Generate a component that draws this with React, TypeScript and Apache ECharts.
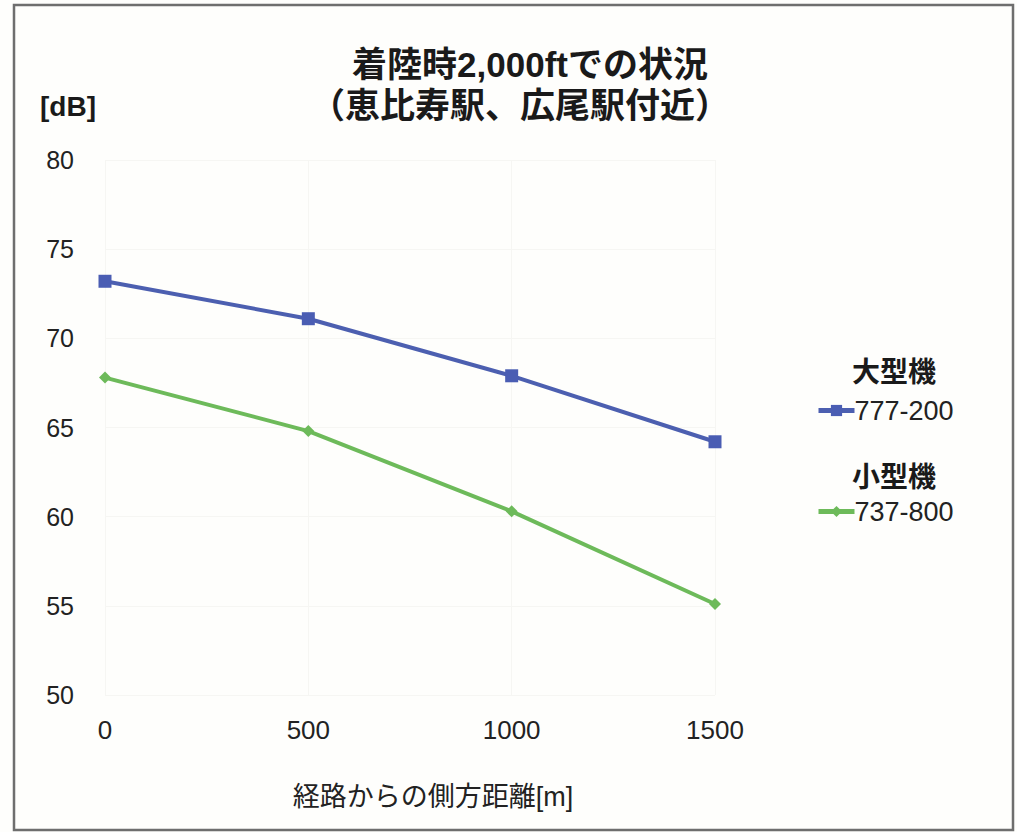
import React, { useEffect, useRef } from "react";
import * as echarts from "echarts";

const distances = [0, 500, 1000, 1500];
const large777 = [73.2, 71.1, 67.9, 64.2];
const small737 = [67.8, 64.8, 60.3, 55.1];
const seriesNames = ["777-200", "737-800"];
const groupNames = ["大型機", "小型機"];
const titleLines = ["着陸時2,000ftでの状況", "（恵比寿駅、広尾駅付近）"];
const yUnit = "[dB]";
const xName = "経路からの側方距離[m]";

const FONT = "'Liberation Sans', Arial, 'Noto Sans CJK JP', sans-serif";

export default function App() {
  const ref = useRef<HTMLDivElement>(null);
  useEffect(() => {
    if (!ref.current) return;
    const chart = echarts.init(ref.current, null, { renderer: "svg" });
    const blue = "#4c5fb0";
    const green = "#6dba5a";
    const legendText = { fontSize: 27, color: "#222", fontFamily: FONT, padding: [0, 0, 0, -5] };
    chart.setOption({
      animation: false,
      backgroundColor: "#fefefc",
      textStyle: { fontFamily: FONT, color: "#222" },
      grid: { left: 105, top: 160, width: 610, height: 535 },
      xAxis: {
        type: "value",
        min: 0,
        max: 1500,
        interval: 500,
        axisLine: { show: false },
        axisTick: { show: false },
        splitLine: { show: true, lineStyle: { color: "#f6f6f3", width: 1 } },
        axisLabel: {
          fontSize: 26,
          color: "#222",
          margin: 22,
          fontFamily: FONT,
          formatter: (v: number) => String(v),
        },
        name: xName,
        nameLocation: "middle",
        nameGap: 88,
        nameTextStyle: { fontSize: 27, color: "#222", fontFamily: FONT, padding: [0, 0, 0, 46] },
      },
      yAxis: {
        type: "value",
        min: 50,
        max: 80,
        interval: 5,
        axisLine: { show: false },
        axisTick: { show: false },
        splitLine: { show: true, lineStyle: { color: "#f6f6f3", width: 1 } },
        axisLabel: { fontSize: 25, color: "#222", margin: 31, fontFamily: FONT },
      },
      legend: [
        {
          data: [seriesNames[0]],
          left: 811,
          top: 392,
          itemWidth: 36,
          itemHeight: 14,
          itemGap: 0,
          lineStyle: { width: 5 },
          textStyle: legendText,
        },
        {
          data: [seriesNames[1]],
          left: 811,
          top: 493,
          itemWidth: 36,
          itemHeight: 14,
          itemGap: 0,
          lineStyle: { width: 5 },
          textStyle: legendText,
        },
      ],
      graphic: [
        {
          type: "rect",
          shape: { x: 14, y: 5, width: 999, height: 825 },
          style: { fill: "none", stroke: "#6e6e6e", lineWidth: 2.5 },
          silent: true,
        },
        {
          type: "text",
          x: 530,
          y: 64,
          style: {
            text: titleLines[0],
            fontSize: 35,
            fontWeight: "bold",
            fill: "#1a1a1a",
            align: "center",
            verticalAlign: "middle",
            fontFamily: FONT,
          },
        },
        {
          type: "text",
          x: 520,
          y: 105,
          style: {
            text: titleLines[1],
            fontSize: 35,
            fontWeight: "bold",
            fill: "#1a1a1a",
            align: "center",
            verticalAlign: "middle",
            fontFamily: FONT,
          },
        },
        {
          type: "text",
          x: 40,
          y: 106,
          style: {
            text: yUnit,
            fontSize: 28,
            fontWeight: "bold",
            fill: "#1a1a1a",
            align: "left",
            verticalAlign: "middle",
            fontFamily: FONT,
          },
        },
        {
          type: "text",
          x: 894,
          y: 372,
          style: {
            text: groupNames[0],
            fontSize: 28,
            fontWeight: "bold",
            fill: "#1a1a1a",
            align: "center",
            verticalAlign: "middle",
            fontFamily: FONT,
          },
        },
        {
          type: "text",
          x: 894,
          y: 477,
          style: {
            text: groupNames[1],
            fontSize: 28,
            fontWeight: "bold",
            fill: "#1a1a1a",
            align: "center",
            verticalAlign: "middle",
            fontFamily: FONT,
          },
        },
      ],
      series: [
        {
          name: seriesNames[0],
          type: "line",
          data: distances.map((d, i) => [d, large777[i]]),
          symbol: "rect",
          symbolSize: 13,
          lineStyle: { color: blue, width: 4 },
          itemStyle: { color: "#4a5db3" },
        },
        {
          name: seriesNames[1],
          type: "line",
          data: distances.map((d, i) => [d, small737[i]]),
          symbol: "diamond",
          symbolSize: 12,
          lineStyle: { color: green, width: 4 },
          itemStyle: { color: green },
        },
      ],
    });
    return () => chart.dispose();
  }, []);
  return (
    <div
      ref={ref}
      style={{ position: "absolute", left: 0, top: 0, width: 1017, height: 832 }}
    />
  );
}
